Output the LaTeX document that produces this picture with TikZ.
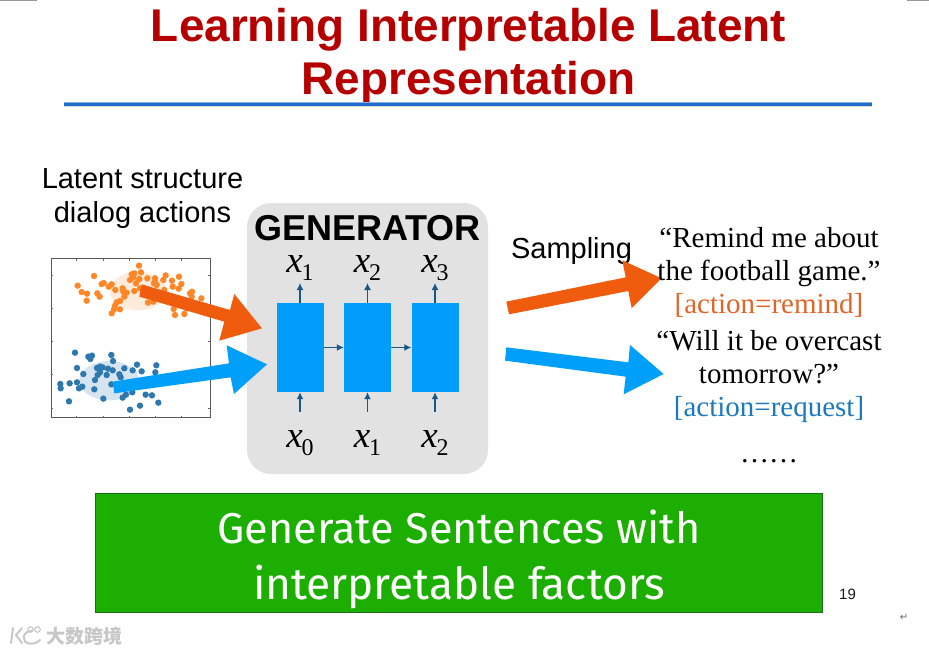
\documentclass[tikz,border=0pt]{standalone}
\usepackage{fontspec}
\usepackage{graphicx}
\usetikzlibrary{arrows.meta}
\setmainfont{Liberation Serif}
\newfontfamily\arial{Liberation Sans}
\newfontfamily\comic{Fira Sans}
\newfontfamily\dejavu{DejaVu Sans}
\newfontfamily\cjkf{Noto Sans CJK SC}
\definecolor{titlered}{RGB}{182,0,0}
\definecolor{rulebl}{RGB}{32,108,200}
\definecolor{panelgr}{RGB}{226,226,226}
\definecolor{cellbl}{RGB}{0,158,250}
\definecolor{wirebl}{RGB}{22,88,135}
\definecolor{arrowor}{RGB}{240,92,14}
\definecolor{arrowbl}{RGB}{0,160,250}
\definecolor{txtor}{RGB}{226,100,40}
\definecolor{txtbl}{RGB}{30,120,190}
\definecolor{banner}{RGB}{29,174,2}
\definecolor{bannerdk}{RGB}{24,110,20}
\definecolor{dotor}{RGB}{255,135,40}
\definecolor{dotbl}{RGB}{45,120,175}
\tikzset{
  cellbox/.style={fill=cellbl,draw=none,minimum width=47pt,minimum height=89pt,inner sep=0pt},
  wire/.style={draw=wirebl,line width=1.3pt,-{Latex[length=7pt,width=7pt]}},
  varlabel/.style={inner sep=0pt,anchor=base,font=\fontsize{37}{37}\selectfont},
  sanslabel/.style={inner sep=0pt,font=\arial\fontsize{29}{34}\selectfont,align=center},
  sentence/.style={inner sep=0pt,font=\fontsize{29}{33}\selectfont,align=center},
}
\newcommand{\xvar}[1]{{\itshape x}\kern-1pt\raisebox{-8.5pt}{\fontsize{24}{24}\selectfont #1}}
\begin{document}
\begin{tikzpicture}[x=1pt,y=-1pt]
\useasboundingbox (0,0) rectangle (929,654);
% corner marks
\fill[black!40] (0,0) rectangle (37,1.2);
\fill[black!40] (907,0) rectangle (929,1.2);
% title
\node[inner sep=0pt,text=titlered,font=\arial\bfseries\fontsize{45.9}{53}\selectfont,align=center] (title) at (468.5,56)
  {Learning Interpretable Latent\\Representation};
\fill[black!15] (64,104) rectangle (872,107);
\fill[rulebl!55] (64,102) rectangle (872,106);
\fill[rulebl] (64,103) rectangle (872,105.5);
% left labels
\node[sanslabel] (latent) at (142.5,198.5) {Latent structure\\dialog actions};
% generator panel
\fill[panelgr,rounded corners=24pt] (247,203) rectangle (488,474);
% scatter plot
\node[draw=black!65,line width=1pt,minimum width=159pt,minimum height=159pt,inner sep=0pt] (plot) at (130.5,338) {};
\foreach \xx in {76.5,103,129,155,181.5}{
  \draw[black!60,line width=.5pt] (\xx,258.5) -- (\xx,260.5);
  \draw[black!60,line width=.5pt] (\xx,417.5) -- (\xx,415.5);
}
\foreach \yy in {275,308.5,341,374,408}{
  \draw[black!60,line width=.5pt] (51,\yy) -- (53,\yy);
  \draw[black!60,line width=.5pt] (210,\yy) -- (208,\yy);
}
\begin{scope}[shift={(30,240)},x=0.3333pt,y=-0.3333pt]
\fill[dotor,opacity=.17] (325,153) ellipse [x radius=85,y radius=58];
\fill[dotbl,opacity=.2] (238,422) ellipse [x radius=90,y radius=59];
\foreach \a/\b in {327/77,192/108,143/137,155/156,171/161,170/182,202/160,209/170,215/132,221/129,236/140,245/133,256/150,278/145,280/155,290/158,283/170,270/183,260/187,255/197,252/208,245/220,270/208,313/153,305/103,313/100,333/97,300/120,318/130,328/117,352/115,375/115,372/130,380/135,400/120,407/106,447/110,426/122,454/132,428/140,446/146,403/150,486/155,480/160,514/175,485/170,431/207,435/225,463/222,470/205,354/188,370/185,330/145,310/112,375/125}
  \fill[dotor] (\a,\b) circle [radius=3.2pt];
\foreach \a/\b in {135/338,175/350,186/347,181/357,244/345,249/363,141/384,160/402,201/384,210/380,218/382,234/386,248/391,283/385,321/374,308/391,335/394,379/376,376/397,268/403,210/397,203/405,195/420,230/405,272/412,244/433,91/432,92/445,119/430,141/427,147/445,157/440,193/448,220/476,117/484,278/473,288/464,307/457,347/464,366/466,385/488,330/497,300/509}
  \fill[dotbl] (\a,\b) circle [radius=3.2pt];
% block arrows over the plot
\fill[arrowor] (335,133) -- (600,210) -- (613,162) -- (696,265) -- (568,302) -- (583,245) -- (328,170) -- cycle;
\fill[arrowbl] (248,425) -- (597,370) -- (590,316) -- (711,373) -- (612,462) -- (602,412) -- (253,460) -- cycle;
\end{scope}
\node[inner sep=0pt,font=\arial\bfseries\fontsize{36}{36}\selectfont] (gen) at (367.5,228) {GENERATOR};
\node[cellbox] (c1) at (300,347.5) {};
\node[cellbox] (c2) at (367.5,347.5) {};
\node[cellbox] (c3) at (435,347.5) {};
\node[varlabel] (o1) at (300,272) {\xvar{1}};
\node[varlabel] (o2) at (367.5,272) {\xvar{2}};
\node[varlabel] (o3) at (435,272) {\xvar{3}};
\node[varlabel] (i0) at (300,447) {\xvar{0}};
\node[varlabel] (i1) at (367.5,447) {\xvar{1}};
\node[varlabel] (i2) at (435,447) {\xvar{2}};
\coordinate (t1) at (300,283);
\coordinate (t2) at (367.5,283);
\coordinate (t3) at (435,283);
\coordinate (b1) at (300,412);
\coordinate (b2) at (367.5,412);
\coordinate (b3) at (435,412);
\draw[wire] (c1.north) -- (t1);
\draw[wire] (c2.north) -- (t2);
\draw[wire] (c3.north) -- (t3);
\draw[wire] (b1) -- (c1.south);
\draw[wire] (b2) -- (c2.south);
\draw[wire] (b3) -- (c3.south);
\draw[wire] (c1.east) -- (c2.west);
\draw[wire] (c2.east) -- (c3.west);
% sampling
\node[inner sep=0pt,font=\arial\fontsize{29}{30}\selectfont] (samp) at (571.5,251) {Sampling};
\begin{scope}[shift={(495,215)},x=0.3333pt,y=-0.3333pt]
\fill[arrowor] (34,260) -- (392,187) -- (382,136) -- (500,190) -- (410,280) -- (400,228) -- (42,298) -- cycle;
\fill[arrowbl] (34,397) -- (400,442) -- (405,390) -- (506,477) -- (386,538) -- (392,485) -- (30,437) -- cycle;
\end{scope}
% sentences
\node[sentence] (s1) at (769,257.5) {“Remind me about\\the football game.”};
\node[sentence,text=txtor] (a1) at (769,305) {[action=remind]};
\node[sentence] (s2) at (769,357.5) {“Will it be overcast\\tomorrow?”};
\node[sentence,text=txtbl] (a2) at (769,410) {[action=request]};
\node[sentence] (dots) at (769,461) {……};
% banner
\node[fill=banner,draw=bannerdk,line width=.8pt,minimum width=727pt,minimum height=119pt,inner sep=0pt] (ban) at (459,553) {};
\node[inner sep=0pt,text=white] (l1) at (459,527) {\resizebox{483pt}{!}{\comic\fontsize{40}{40}\selectfont Generate Sentences with}};
\node[inner sep=0pt,text=white] (l2) at (459,587) {\resizebox{412pt}{!}{\comic\fontsize{40}{40}\selectfont interpretable factors}};
% page number
\node[inner sep=0pt,font=\fontsize{15}{15}\selectfont\arial,text=black!90] (pg) at (847.5,594) {19};
\node[inner sep=0pt,font=\dejavu\fontsize{10}{10}\selectfont,text=black!60] (ret) at (904,617) {↵};
% watermark
\begin{scope}[draw=black!22,line width=2pt,line cap=round,line join=round]
\draw (13,628) -- (11,643);
\draw (22,628) -- (16,635) -- (22,643);
\draw (32,631) .. controls (22,631) and (21,642) .. (29,643.5) .. controls (33,644) and (37,643) .. (40,640);
\draw[line width=1.1pt] (30.5,629.5) circle [radius=2.8];
\draw[line width=1.1pt] (37.5,629.5) circle [radius=2.8];
\end{scope}
\node[inner sep=0pt,text=black!22,font=\cjkf\bfseries\fontsize{19}{19}\selectfont] (wm) at (84,636.5) {大数跨境};
\end{tikzpicture}
\end{document}
